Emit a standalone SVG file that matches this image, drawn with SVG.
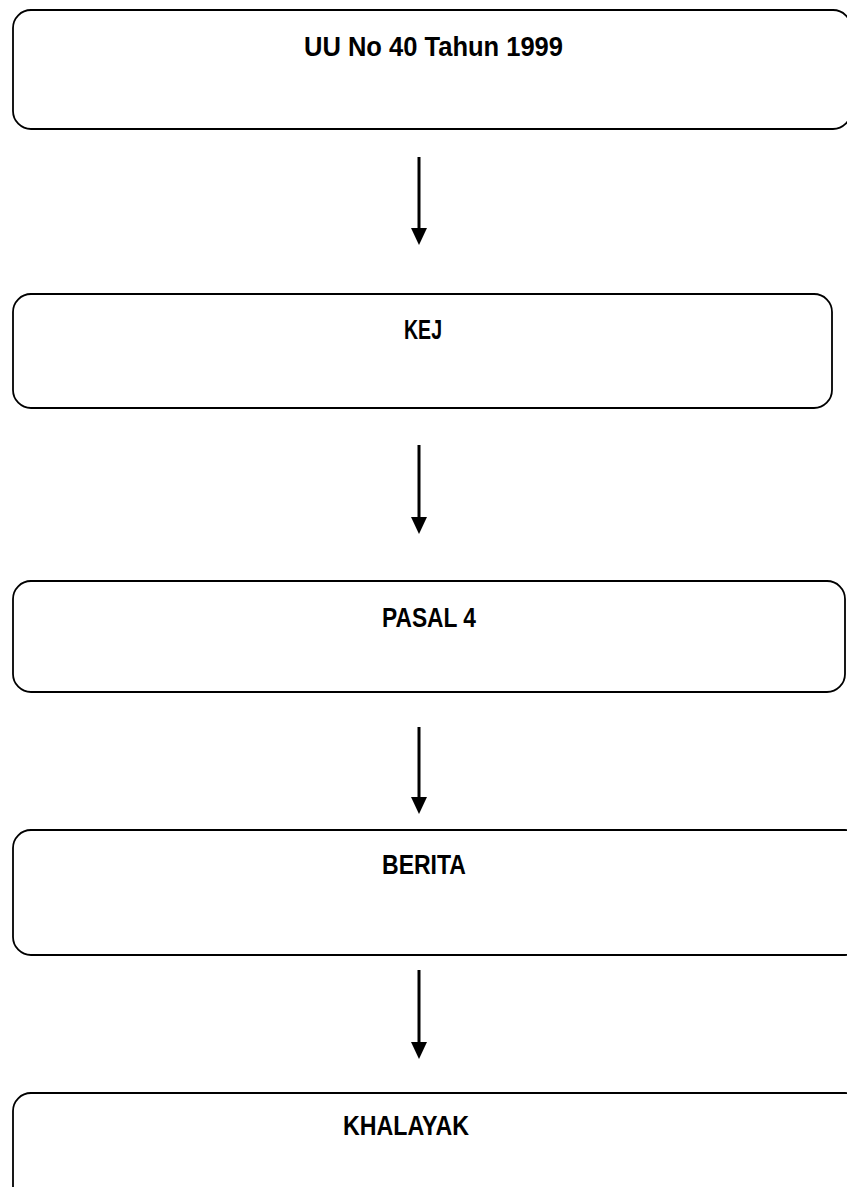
<svg xmlns="http://www.w3.org/2000/svg" width="847" height="1187" viewBox="0 0 847 1187">
  <style>
    .box { fill: #ffffff; stroke: #000000; stroke-width: 1.8; }
    .label { font-family: "Liberation Sans", Arial, sans-serif; font-size: 27px; font-weight: bold; fill: #000000; }
    .link { stroke: #000000; stroke-width: 3; fill: none; }
  </style>
  <defs>
    <marker id="tip" markerUnits="userSpaceOnUse" markerWidth="17" markerHeight="16" refX="0" refY="8" orient="auto" viewBox="0 0 17 16">
      <path d="M0,0 L17,8 L0,16 Z" fill="#000000"/>
    </marker>
  </defs>
  <rect width="847" height="1187" fill="#ffffff"/>

  <g id="node-uu">
    <rect class="box" x="13" y="10" width="838" height="119" rx="18" ry="18"/>
    <text class="label" x="304" y="56" textLength="259" lengthAdjust="spacingAndGlyphs">UU No 40 Tahun 1999</text>
  </g>

  <g id="node-kej">
    <rect class="box" x="13" y="294" width="819" height="114" rx="18" ry="18"/>
    <text class="label" x="404" y="339" textLength="38" lengthAdjust="spacingAndGlyphs">KEJ</text>
  </g>

  <g id="node-pasal">
    <rect class="box" x="13" y="581" width="832" height="111" rx="18" ry="18"/>
    <text class="label" x="382" y="627" textLength="94" lengthAdjust="spacingAndGlyphs">PASAL 4</text>
  </g>

  <g id="node-berita">
    <rect class="box" x="13" y="830" width="850" height="125" rx="18" ry="18"/>
    <text class="label" x="382" y="874" textLength="84" lengthAdjust="spacingAndGlyphs">BERITA</text>
  </g>

  <g id="node-khalayak">
    <rect class="box" x="13" y="1093" width="850" height="130" rx="18" ry="18"/>
    <text class="label" x="343" y="1135" textLength="126" lengthAdjust="spacingAndGlyphs">KHALAYAK</text>
  </g>

  <g id="connectors">
    <line class="link" x1="419" y1="157" x2="419" y2="228" marker-end="url(#tip)"/>
    <line class="link" x1="419" y1="445" x2="419" y2="517" marker-end="url(#tip)"/>
    <line class="link" x1="419" y1="727" x2="419" y2="797" marker-end="url(#tip)"/>
    <line class="link" x1="419" y1="970" x2="419" y2="1042" marker-end="url(#tip)"/>
  </g>
</svg>
